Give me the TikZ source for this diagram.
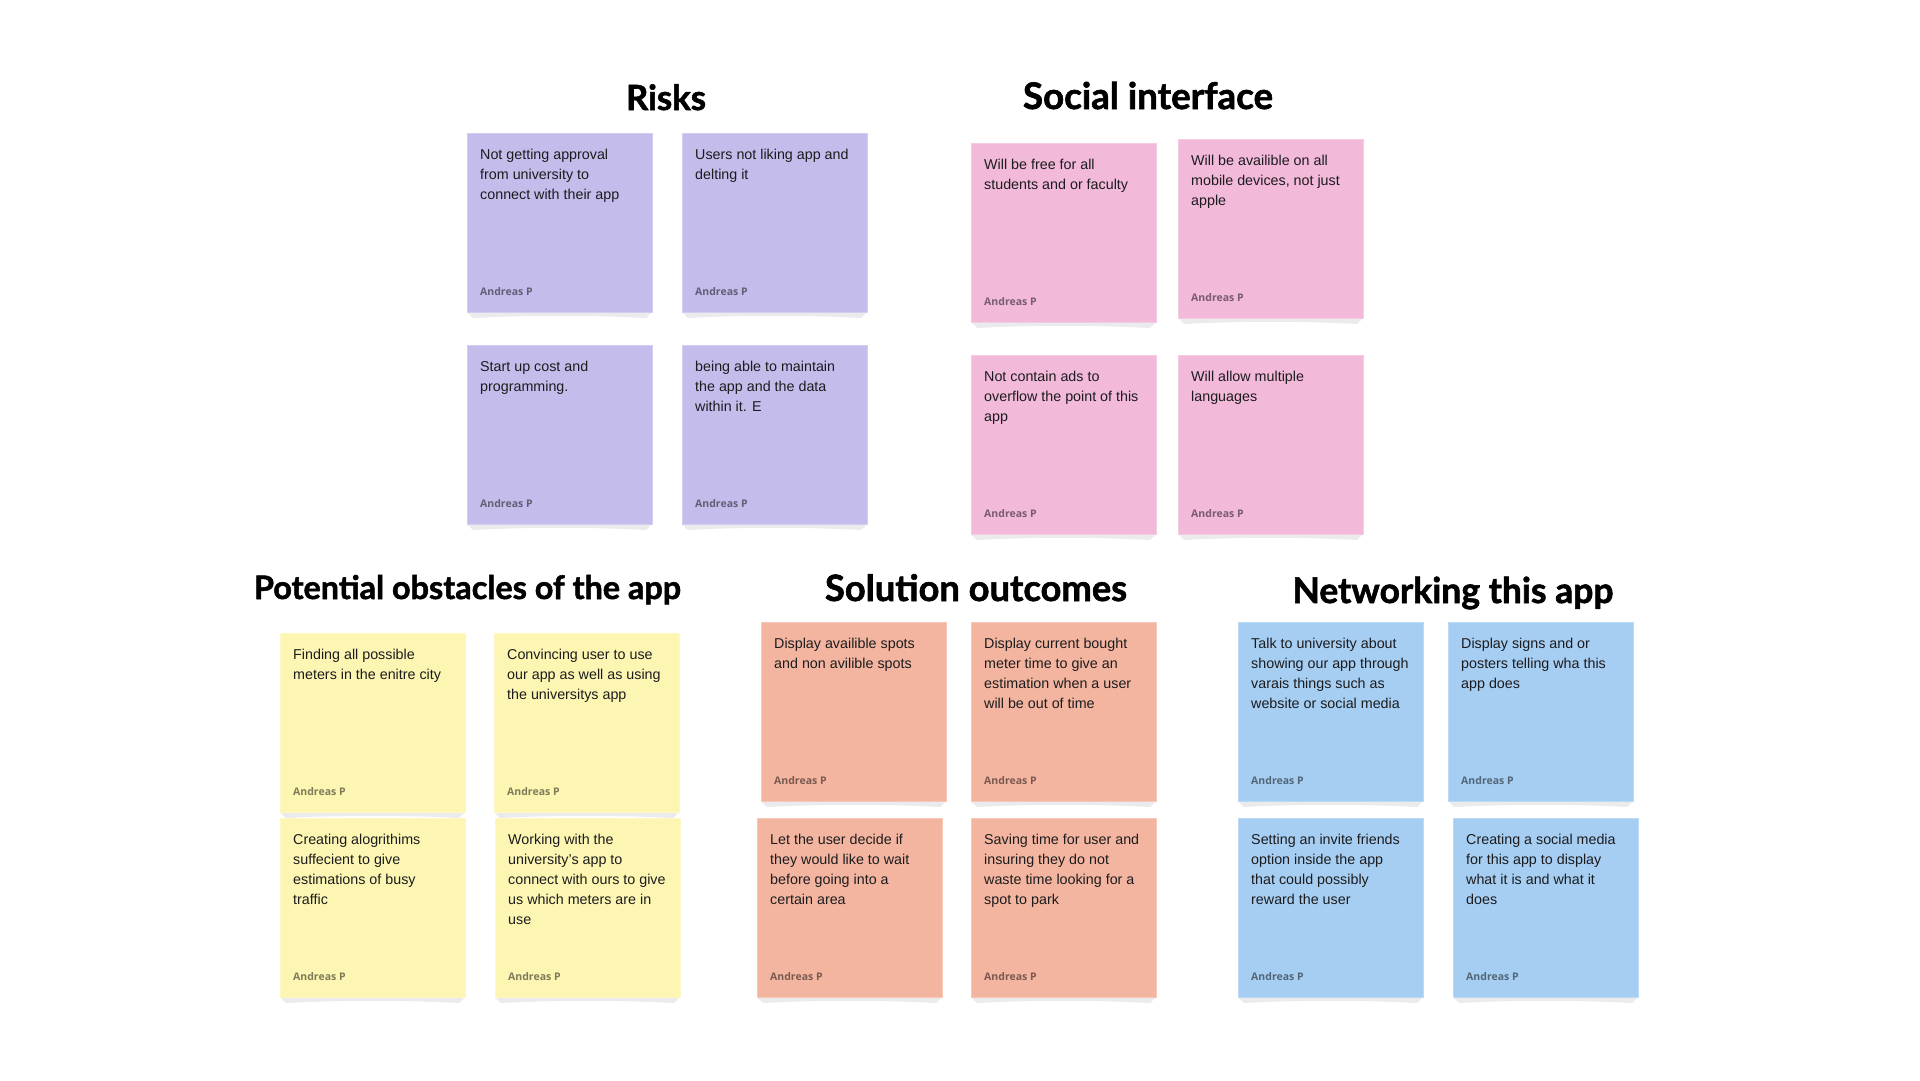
\documentclass[tikz,border=0pt]{standalone}
\usepackage{fontspec}
\usepackage{graphicx}
\setmainfont{Liberation Sans}
\newfontfamily\titlefont{Lato}[BoldFeatures={FakeBold=1.6}]
\newfontfamily\authorfont{Open Sans}

\definecolor{notepurple}{RGB}{196,189,236}
\definecolor{notepink}{RGB}{242,185,217}
\definecolor{noteyellow}{RGB}{253,246,178}
\definecolor{notesalmon}{RGB}{244,181,160}
\definecolor{noteblue}{RGB}{166,206,242}
\definecolor{noteshadow}{RGB}{235,235,237}
\definecolor{inktext}{RGB}{28,28,30}

\tikzset{
  notebox/.style={anchor=north west, inner sep=0pt, minimum width=185pt,
    minimum height=179pt, draw=#1!75!white, line width=0.7pt, fill=#1},
  notetext/.style={anchor=base west, inner sep=0pt, text=inktext,
    font=\fontsize{14.3pt}{20pt}\selectfont},
  authortext/.style={anchor=base west, inner sep=0pt, text=black,
    text opacity=0.5, font=\authorfont\bfseries\fontsize{10.5pt}{12pt}\selectfont},
  heading/.style={anchor=base, inner sep=0pt, text=black,
    font=\titlefont\bfseries\fontsize{32pt}{38pt}\selectfont},
}

% one sticky note: name, left x, top y, colour, lines of text
\newcommand\stickynote[5]{%
  \fill[noteshadow] (#2,#3+179) -- (#2+185,#3+179) -- (#2+179,#3+185)
    .. controls (#2+125,#3+182) and (#2+60,#3+182) .. (#2+6,#3+185) -- cycle;
  \node[notebox=#4] (#1) at (#2,#3) {};
  \node[notetext] (#1-txt) at (#2+13,#3+26.5)
    {\begin{tabular}[t]{@{}l@{}}#5\end{tabular}};
  \node[authortext] (#1-by) at (#2+13,#3+162) {Andreas P};
}

\begin{document}
\begin{tikzpicture}[x=1pt,y=-1pt]
\fill[white] (0,0) rectangle (1920,1080);
\useasboundingbox (0,0) rectangle (1920,1080);

% headings
\node[heading] (h-risks)  at (666,110)   {\resizebox{80pt}{!}{Risks}};
\node[heading] (h-social) at (1148,109)  {\resizebox{250pt}{!}{Social interface}};
\node[heading] (h-obst)   at (467.5,599) {\resizebox{427pt}{!}{Potential obstacles of the app}};
\node[heading] (h-sol)    at (976,601)   {\resizebox{302pt}{!}{Solution outcomes}};
\node[heading] (h-net)    at (1453,603)  {\resizebox{321pt}{!}{Networking this app}};

% Risks
\stickynote{r1}{467}{133}{notepurple}{Not getting approval\\from university to\\connect with their app}
\stickynote{r2}{682}{133}{notepurple}{Users not liking app and\\delting it}
\stickynote{r3}{467}{345}{notepurple}{Start up cost and\\programming.}
\stickynote{r4}{682}{345}{notepurple}{being able to maintain\\the app and the data\\within it. E}

% Social interface
\stickynote{s1}{971}{143}{notepink}{Will be free for all\\students and or faculty}
\stickynote{s2}{1178}{139}{notepink}{Will be availible on all\\mobile devices, not just\\apple}
\stickynote{s3}{971}{355}{notepink}{Not contain ads to\\overflow the point of this\\app}
\stickynote{s4}{1178}{355}{notepink}{Will allow multiple\\languages}

% Potential obstacles of the app
\stickynote{o1}{280}{633}{noteyellow}{Finding all possible\\meters in the enitre city}
\stickynote{o2}{494}{633}{noteyellow}{Convincing user to use\\our app as well as using\\the universitys app}
\stickynote{o3}{280}{818}{noteyellow}{Creating alogrithims\\suffecient to give\\estimations of busy\\traffic}
\stickynote{o4}{495}{818}{noteyellow}{Working with the\\university's app to\\connect with ours to give\\us which meters are in\\use}

% Solution outcomes
\stickynote{u1}{761}{622}{notesalmon}{Display availible spots\\and non avilible spots}
\stickynote{u2}{971}{622}{notesalmon}{Display current bought\\meter time to give an\\estimation when a user\\will be out of time}
\stickynote{u3}{757}{818}{notesalmon}{Let the user decide if\\they would like to wait\\before going into a\\certain area}
\stickynote{u4}{971}{818}{notesalmon}{Saving time for user and\\insuring they do not\\waste time looking for a\\spot to park}

% Networking this app
\stickynote{n1}{1238}{622}{noteblue}{Talk to university about\\showing our app through\\varais things such as\\website or social media}
\stickynote{n2}{1448}{622}{noteblue}{Display signs and or\\posters telling wha this\\app does}
\stickynote{n3}{1238}{818}{noteblue}{Setting an invite friends\\option inside the app\\that could possibly\\reward the user}
\stickynote{n4}{1453}{818}{noteblue}{Creating a social media\\for this app to display\\what it is and what it\\does}
\end{tikzpicture}
\end{document}
